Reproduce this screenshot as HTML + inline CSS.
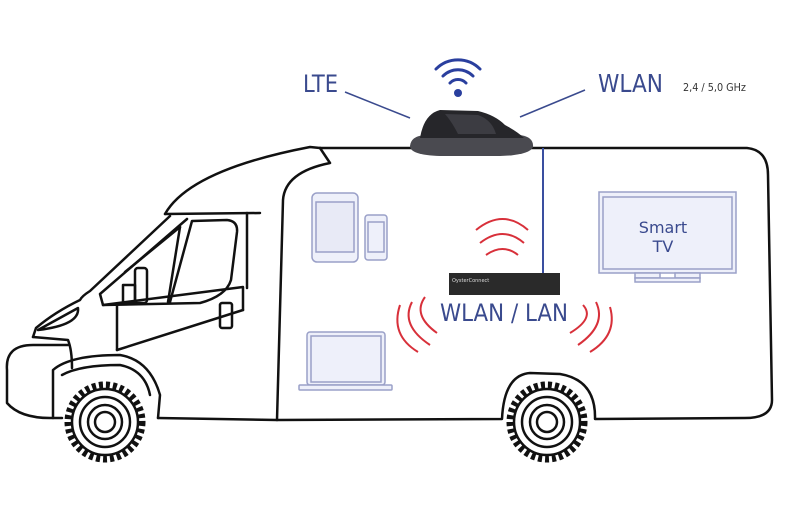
<!DOCTYPE html>
<html><head><meta charset="utf-8"><style>
html,body{margin:0;padding:0;background:#fff;width:800px;height:508px;overflow:hidden}
svg{display:block}
text{font-family:"DejaVu Sans","Liberation Sans",sans-serif}
</style></head><body>
<svg width="800" height="508" viewBox="0 0 800 508" xmlns="http://www.w3.org/2000/svg">
<g fill="none" stroke="#111" stroke-width="2.5" stroke-linejoin="round" stroke-linecap="round">
 <path d="M320,148 L747,148 Q768,150 768,175 L772,400 Q772,418 745,418 L595,419 Q596,380 560,374 L530,373 Q504,375 502,419 L277,420"/>
 <path d="M320,148 L330,163 Q285,172 283,200 L277,420"/>
 <path d="M165,214 Q190,170 310,147 L320,148"/>
 <path d="M165,214 L260,213"/>
 <path d="M247,213 L247,288"/>
 <path d="M170,216 L90,291 Q82,296 80,300 Q55,312 36,328 L33,337"/>
 <path d="M187,219 L100,294 L103,305 L200,303 Q226,296 231,280 L237,232 Q238,221 227,220 L192,221 L170,302"/>
 <path d="M180,227 L125,272"/>
 <path d="M180,227 L168,302"/>
 <path d="M103,305 L243,287 L243,310"/>
 <path d="M117,305 L117,350"/>
 <path d="M117,350 L243,310"/>
 <path d="M38,330 Q60,318 78,308 Q80,325 38,330 Z"/>
 <path d="M33,337 L68,340 Q72,350 72,368"/>
 <path d="M68,345 L33,345 Q5,345 7,370 L7,403 Q20,418 50,418 L62,418"/>
 <path d="M53,418 L53,370 Q70,355 120,355 Q150,360 160,395 L158,418"/>
 <path d="M62,375 Q80,365 120,365 Q145,370 150,395"/>
 <path d="M158,418 L277,420"/>
 <rect x="220" y="303" width="12" height="25" rx="2"/>
 <rect x="135" y="268" width="12" height="35" rx="3"/>
 <rect x="123" y="285" width="12" height="18"/>
</g>
<g fill="none" stroke="#111">
 <circle cx="105" cy="422" r="37" stroke-width="7" stroke-dasharray="4 3"/>
 <circle cx="105" cy="422" r="33" stroke-width="2.5"/>
 <circle cx="105" cy="422" r="25" stroke-width="2.5"/>
 <circle cx="105" cy="422" r="17" stroke-width="2.5"/>
 <circle cx="105" cy="422" r="10" stroke-width="2.5"/>
 <circle cx="547" cy="422" r="37" stroke-width="7" stroke-dasharray="4 3"/>
 <circle cx="547" cy="422" r="33" stroke-width="2.5"/>
 <circle cx="547" cy="422" r="25" stroke-width="2.5"/>
 <circle cx="547" cy="422" r="17" stroke-width="2.5"/>
 <circle cx="547" cy="422" r="10" stroke-width="2.5"/>
</g>
<g fill="#eef0fa" stroke="#9aa0c8" stroke-width="1.5">
 <rect x="312" y="193" width="46" height="69" rx="5"/>
 <rect x="316" y="202" width="38" height="50" fill="#e8eaf6"/>
 <rect x="365" y="215" width="22" height="45" rx="3"/>
 <rect x="368" y="222" width="16" height="30"/>
 <rect x="307" y="332" width="78" height="53" rx="3"/>
 <rect x="311" y="336" width="70" height="46"/>
 <rect x="299" y="385" width="93" height="5" rx="1"/>
 <rect x="599" y="192" width="137" height="81"/>
 <rect x="603" y="197" width="129" height="72"/>
 <rect x="635" y="273" width="25" height="5"/>
 <rect x="675" y="273" width="25" height="5"/>
 <rect x="635" y="278" width="65" height="4"/>
</g>
<text x="663" y="233" font-size="16" fill="#3a4a8e" text-anchor="middle">Smart</text>
<text x="663" y="252" font-size="16" fill="#3a4a8e" text-anchor="middle">TV</text>
<line x1="543" y1="148" x2="543" y2="274" stroke="#3a4fa0" stroke-width="2"/>
<rect x="449" y="273" width="111" height="22" fill="#2a2a2a"/>
<text x="452" y="282" font-size="5" fill="#ddd">OysterConnect</text>
<g fill="none" stroke="#d8303a" stroke-width="2">
 <path d="M476,230 Q503,208 528,230"/>
 <path d="M480,243 Q503,225 524,243"/>
 <path d="M486,255 Q503,243 518,255"/>
 <path d="M425,297 Q412,315 437,333"/>
 <path d="M412,302 Q400,325 430,345"/>
 <path d="M400,305 Q390,335 418,352"/>
 <path d="M583,305 Q595,318 570,333"/>
 <path d="M596,302 Q607,325 578,345"/>
 <path d="M610,307 Q618,335 590,352"/>
</g>
<text x="440" y="321" font-size="24" fill="#3a4a8e" textLength="128" lengthAdjust="spacingAndGlyphs">WLAN / LAN</text>
<text x="303" y="92" font-size="24" fill="#3a4a8e" textLength="35" lengthAdjust="spacingAndGlyphs">LTE</text>
<text x="598" y="92" font-size="25" fill="#3a4a8e" textLength="65" lengthAdjust="spacingAndGlyphs">WLAN</text>
<text x="683" y="91" font-size="11" fill="#333" textLength="63" lengthAdjust="spacingAndGlyphs">2,4 / 5,0 GHz</text>
<line x1="345" y1="92" x2="410" y2="118" stroke="#3a4a8e" stroke-width="1.5"/>
<line x1="585" y1="90" x2="520" y2="117" stroke="#3a4a8e" stroke-width="1.5"/>
<circle cx="458" cy="93" r="4" fill="#2a3f9e"/>
<g fill="none" stroke="#2a3f9e" stroke-width="3" stroke-linecap="round">
 <path d="M450,83 A11,11 0 0 1 466,83"/>
 <path d="M443,76 A21,21 0 0 1 473,76"/>
 <path d="M436,69 A31,31 0 0 1 480,69"/>
</g>
<path d="M410,146 Q411,136 425,135 L520,135 Q534,137 533,147 Q530,155 500,156 L440,156 Q410,155 410,146 Z" fill="#4a4a50"/>
<path d="M420,138 Q424,114 440,110 L478,111 Q495,115 505,125 Q518,132 524,138 Z" fill="#26262a"/>
<path d="M445,114 L478,115 Q492,120 496,134 L458,134 Q452,122 445,114 Z" fill="#3c3c42"/>
</svg>
</body></html>
